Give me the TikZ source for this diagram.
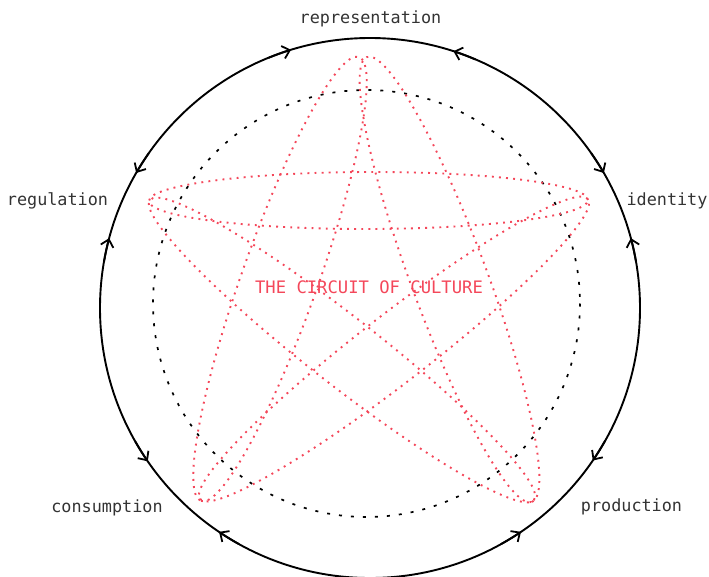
\documentclass[tikz,border=0pt]{standalone}
\usepackage{fontspec}
\setmonofont{DejaVu Sans Mono}
\usetikzlibrary{arrows.meta,calc}
\definecolor{circuitred}{HTML}{F4475A}
\definecolor{labelgrey}{HTML}{333333}

\begin{document}
\begin{tikzpicture}[
    x=1pt, y=-1pt,
    font=\ttfamily\fontsize{16.8}{20}\selectfont,
    rim/.style={draw=black, line width=1.9pt},
    core/.style={draw=black, line width=1.7pt, dash pattern=on 3pt off 9pt},
    loopline/.style={draw=circuitred, line width=1.9pt, dash pattern=on 1.9pt off 5.2pt},
    flowtip/.style={-{Straight Barb[length=7pt,width=13pt,line width=1.8pt]}, line width=1.9pt},
    moment/.style={text=labelgrey, inner sep=0pt, anchor=base},
    title/.style={text=circuitred, inner sep=0pt, anchor=base, font=\ttfamily\fontsize{17.2}{20}\selectfont},
  ]
  \useasboundingbox (0,0) rectangle (709,576);
  \clip (0,0) rectangle (709,576);

  % --- the two rings ---------------------------------------------------------
  \coordinate (O) at (370,308);
  \coordinate (Oin) at (366.5,303.5);
  \draw[rim] (O) circle[radius=270];
  \draw[core] (Oin) circle[radius=213.5];

  % --- arrow heads on the outer ring, pointing at each moment ----------------
  \foreach \s/\e in {-112/-107, -67/-72, -145/-150, -170/-165, -35/-30,
                     -10/-15, -209.6/-214.6, -241/-236, -330.6/-325.6, -299/-304}
    \draw[flowtip] (O) ++(\s:270) arc[start angle=\s, end angle=\e, radius=270];

  % --- star tips ---------------------------------------------------------------
  \coordinate (T1) at (359,57);   \coordinate (T2) at (367,57);
  \coordinate (L1) at (149,201);  \coordinate (L2) at (150,200);
  \coordinate (R1) at (588,200);  \coordinate (R2) at (588,199);
  \coordinate (BL1) at (201,501); \coordinate (BL2) at (200,499);
  \coordinate (BR1) at (532,502); \coordinate (BR2) at (534,500);

  % --- the pentagram of thin loops -------------------------------------------
  \foreach \a/\b/\w in {T1/BL1/38, T2/BR1/38, L1/R1/28.5, L2/BR2/34, R2/BL2/34}
    \draw[loopline] let \p1 = ($(\b)-(\a)$), \n1 = {atan2(\y1,\x1)},
      \n2 = {veclen(\x1,\y1)/2} in
      [rotate around={\n1:($(\a)!0.5!(\b)$)}]
      ($(\a)!0.5!(\b)$) ellipse[x radius=\n2, y radius=\w pt];

  % --- labels ------------------------------------------------------------------
  \node[moment] (representation) at (370.5,23.5) {representation};
  \node[moment] (identity) at (667,205) {identity};
  \node[moment] (regulation) at (57.5,205) {regulation};
  \node[moment] (consumption) at (107,512) {consumption};
  \node[moment] (production) at (631.5,511) {production};
  \node[title] (circuit) at (369,293.5) {THE CIRCUIT OF CULTURE};
\end{tikzpicture}
\end{document}
